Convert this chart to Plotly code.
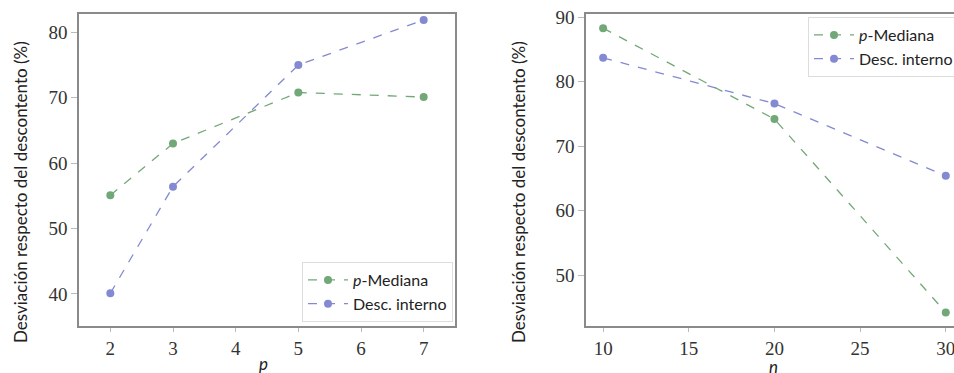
import plotly.graph_objects as go

# Left panel: deviation vs. number of facilities p
p_vals = [2, 3, 5, 7]
p_mediana_p = [55.1, 63.0, 70.8, 70.1]
desc_interno_p = [40.1, 56.4, 75.0, 81.9]

# Right panel: deviation vs. number of nodes n
n_vals = [10, 20, 30]
p_mediana_n = [88.3, 74.2, 44.2]
desc_interno_n = [83.7, 76.6, 65.4]

p_ticks = [2, 3, 4, 5, 6, 7]
n_ticks = [10, 15, 20, 25, 30]
y_ticks_left = [40, 50, 60, 70, 80]
y_ticks_right = [50, 60, 70, 80, 90]

GREEN = "#72a877"
BLUE = "#8489d3"
FRAME = "#8a8a8a"
W, H = 954, 373

fig = go.Figure()

def add_series(x, y, name, color, xa, ya, legend):
    fig.add_trace(go.Scatter(
        x=x, y=y, name=name, mode="lines+markers",
        line=dict(color=color, width=1.3, dash="dash"),
        marker=dict(color=color, size=8),
        xaxis=xa, yaxis=ya, legend=legend, showlegend=True,
    ))

add_series(p_vals, p_mediana_p, "<i>p</i>-Mediana", GREEN, "x", "y", "legend")
add_series(p_vals, desc_interno_p, "Desc. interno", BLUE, "x", "y", "legend")
add_series(n_vals, p_mediana_n, "<i>p</i>-Mediana", GREEN, "x2", "y2", "legend2")
add_series(n_vals, desc_interno_n, "Desc. interno", BLUE, "x2", "y2", "legend2")

tick_font = dict(family="Liberation Serif", size=19, color="#333333")
sans = "Lato"

y_dom = [1 - 326 / H, 1 - 14 / H]
common = dict(showgrid=False, zeroline=False, showline=True, linecolor=FRAME,
              linewidth=1.5, ticks="outside", tickcolor="#bbbbbb",
              tickwidth=1, tickfont=tick_font, ticklabeloverflow="allow")

legend_style = dict(xanchor="left", yanchor="top", bgcolor="white",
                    bordercolor="#dddddd", borderwidth=1,
                    font=dict(family=sans, size=16, color="#222222"),
                    itemwidth=40, tracegroupgap=2)

fig.update_layout(
    width=W, height=H,
    margin=dict(l=0, r=0, t=0, b=0, autoexpand=False),
    paper_bgcolor="white", plot_bgcolor="white",
    xaxis=dict(domain=[79 / W, 455 / W], range=[1.5, 7.5], tickvals=p_ticks,
               mirror=True, anchor="y", ticklen=4, **common),
    yaxis=dict(domain=y_dom, range=[35.1, 82.8], tickvals=y_ticks_left,
               mirror=True, anchor="x", ticklen=6, **common),
    xaxis2=dict(domain=[586 / W, 1.0], range=[9.0, 30.48], tickvals=n_ticks,
                mirror=True, anchor="y2", ticklen=4, **common),
    yaxis2=dict(domain=y_dom, range=[42.1, 90.5], tickvals=y_ticks_right,
                mirror=False, anchor="x2", ticklen=6, **common),
    legend=dict(x=302 / W, y=1 - 262 / H, **legend_style),
    legend2=dict(x=808 / W, y=1 - 17 / H, **legend_style),
)

title_font = dict(family=sans, size=17, color="#222222")
ytitle = "Desviación respecto del descontento (%)"
for xp in (20, 518):
    fig.add_annotation(text=ytitle, x=xp / W, y=1 - 192 / H, xref="paper", yref="paper",
                       xanchor="center", yanchor="middle",
                       textangle=-90, showarrow=False, font=title_font)
fig.add_annotation(text="<i>p</i>", x=263 / W, y=1 - 363 / H, xref="paper", yref="paper",
                   xanchor="center", yanchor="middle",
                   showarrow=False, font=dict(family=sans, size=17, color="#222222"))
fig.add_annotation(text="<i>n</i>", x=773 / W, y=1 - 366 / H, xref="paper", yref="paper",
                   xanchor="center", yanchor="middle",
                   showarrow=False, font=dict(family=sans, size=17, color="#222222"))

fig.write_html("out.html")
